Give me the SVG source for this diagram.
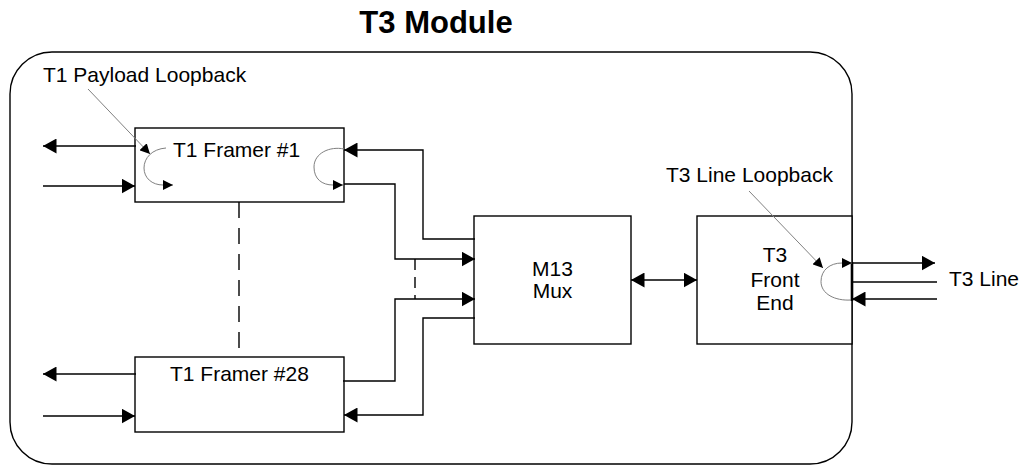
<svg xmlns="http://www.w3.org/2000/svg" width="1023" height="465" viewBox="0 0 1023 465">
<style>
  text { font-family: "Liberation Sans", Arial, sans-serif; font-size: 21px; fill: #000; }
  .title { font-size: 31px; font-weight: bold; text-anchor: middle; }
  .mid { text-anchor: middle; }
  .box { fill: #fff; stroke: #000; stroke-width: 1.4; }
  .border { fill: none; stroke: #000; stroke-width: 1.4; }
  .wire { fill: none; stroke: #000; stroke-width: 1.4; }
  .dash { fill: none; stroke: #000; stroke-width: 1.4; stroke-dasharray: 16 10; }
  .dash2 { fill: none; stroke: #000; stroke-width: 1.4; stroke-dasharray: 11 7; }
  .loop { fill: none; stroke: #808080; stroke-width: 1; }
  .lead { fill: none; stroke: #808080; stroke-width: 1; }
</style>
<defs>
  <marker id="big" markerUnits="userSpaceOnUse" markerWidth="14" markerHeight="15" refX="13.5" refY="7.5" orient="auto-start-reverse" viewBox="0 0 14 15">
    <path d="M0,0 L13.5,7.5 L0,15 Z" fill="#000"/>
  </marker>
  <marker id="small" markerUnits="userSpaceOnUse" markerWidth="10" markerHeight="10" refX="10" refY="5" orient="auto" viewBox="0 0 10 10">
    <path d="M0,0 L10,5 L0,10 Z" fill="#000"/>
  </marker>
</defs>

<text class="title" x="436" y="33">T3 Module</text>

<rect class="border" x="10" y="52" width="842" height="412" rx="42" ry="42"/>

<g id="framer1">
  <rect class="box" x="135" y="128" width="209" height="74"/>
  <text x="173" y="157">T1 Framer #1</text>
</g>
<g id="framer28">
  <rect class="box" x="135" y="357" width="209" height="75"/>
  <text x="170" y="381">T1 Framer #28</text>
</g>
<g id="mux">
  <rect class="box" x="474" y="216" width="157" height="128"/>
  <text class="mid" x="552.5" y="276">M13</text>
  <text class="mid" x="552.5" y="298">Mux</text>
</g>
<g id="frontend">
  <rect class="box" x="697" y="216" width="155" height="128"/>
  <text class="mid" x="775" y="262">T3</text>
  <text class="mid" x="775" y="287">Front</text>
  <text class="mid" x="775" y="310">End</text>
</g>

<g id="labels">
  <text x="43" y="82">T1 Payload Loopback</text>
  <text x="666" y="182">T3 Line Loopback</text>
  <text x="949" y="286">T3 Line</text>
</g>

<g id="connectors">
  <path class="wire" d="M136 146 L43 146" marker-end="url(#big)"/>
  <path class="wire" d="M43 186 L135 186" marker-end="url(#big)"/>
  <path class="wire" d="M136 374 L43 374" marker-end="url(#big)"/>
  <path class="wire" d="M43 416 L135 416" marker-end="url(#big)"/>

  <path class="wire" d="M475 239 L423 239 L423 150 L344 150" marker-end="url(#big)"/>
  <path class="wire" d="M344 184 L395 184 L395 259 L475 259" marker-end="url(#big)"/>
  <path class="wire" d="M343 381 L395 381 L395 299 L475 299" marker-end="url(#big)"/>
  <path class="wire" d="M475 318 L423 318 L423 415 L344 415" marker-end="url(#big)"/>

  <path class="dash" d="M239 202 L239 357"/>
  <path class="dash2" d="M415 259 L415 299"/>

  <path class="wire" d="M631 280 L697 280" marker-start="url(#big)" marker-end="url(#big)"/>

  <path class="wire" d="M852 263 L935 263" marker-end="url(#big)"/>
  <path class="wire" d="M937 299 L852 299" marker-end="url(#big)"/>
  <path class="wire" d="M852 282 L937 282"/>
  <path fill="none" stroke="#000" stroke-width="2.6" d="M852 262 L852 301"/>

  <path class="loop" d="M166 148 C152 149 144 158 144 168 C144 178 152 185 163 185 L173 185" marker-end="url(#small)"/>
  <path class="loop" d="M344 149 C330 146 314 153 314 167 C314 179 322 185 333 185 L343 185" marker-end="url(#small)"/>
  <path class="loop" d="M851 300 C835 301 821 294 821 281.5 C821 270 830 263 842 263 L852 263" marker-end="url(#small)"/>

  <path class="lead" d="M88 89 L150 154" marker-end="url(#small)"/>
  <path class="lead" d="M749 191 L823 268" marker-end="url(#small)"/>
</g>
</svg>
